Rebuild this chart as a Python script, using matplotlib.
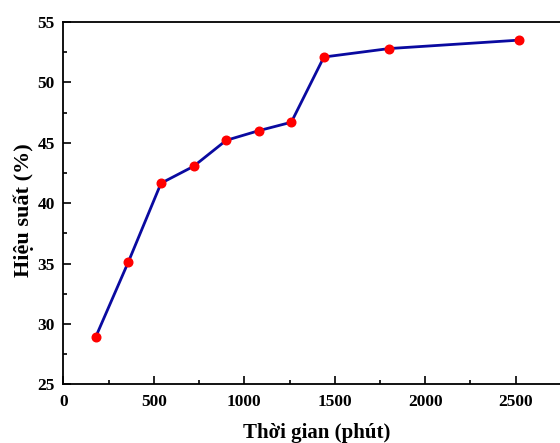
import matplotlib.pyplot as plt
from matplotlib.ticker import MultipleLocator

# data
time_min = [180, 360, 540, 720, 900, 1080, 1260, 1440, 1800, 2520]
efficiency = [28.95, 35.15, 41.65, 43.05, 45.2, 46.0, 46.7, 52.1, 52.8, 53.5]

plt.rcParams['font.family'] = ['Liberation Serif', 'DejaVu Serif']
plt.rcParams['font.weight'] = 'bold'

fig = plt.figure(figsize=(5.6, 4.43), dpi=100)
# axes run off the right edge, as in the reference
ax = fig.add_axes([63.3 / 560, 1 - 384.3 / 443, (570 - 63.3) / 560, (384.3 - 22) / 443])

ax.plot(time_min, efficiency, color='#0a0aa0', lw=2, marker='o',
        markersize=6.2, markerfacecolor='red', markeredgecolor='red', zorder=3)

ax.set_xlim(0, 2800)
ax.set_ylim(25, 55)
ax.xaxis.set_major_locator(MultipleLocator(500))
ax.xaxis.set_minor_locator(MultipleLocator(250))
ax.yaxis.set_major_locator(MultipleLocator(5))
ax.yaxis.set_minor_locator(MultipleLocator(2.5))
ax.tick_params(which='both', direction='in', width=1.2, labelsize=12.5)
ax.tick_params(which='major', length=6)
ax.tick_params(which='minor', length=3)
ax.tick_params(axis='x', pad=7)
ax.tick_params(axis='y', pad=6)
for lab in ax.get_xticklabels() + ax.get_yticklabels():
    lab.set_fontweight('bold')
for s in ax.spines.values():
    s.set_linewidth(1.3)

ax.set_xlabel('Thời gian (phút)', fontsize=15, fontweight='bold', labelpad=9)
ax.set_ylabel('Hiệu suất (%)', fontsize=16, fontweight='bold', labelpad=3)
ax.yaxis.set_label_coords(-0.058, 0.48)

fig.savefig('out.png', dpi=100)
